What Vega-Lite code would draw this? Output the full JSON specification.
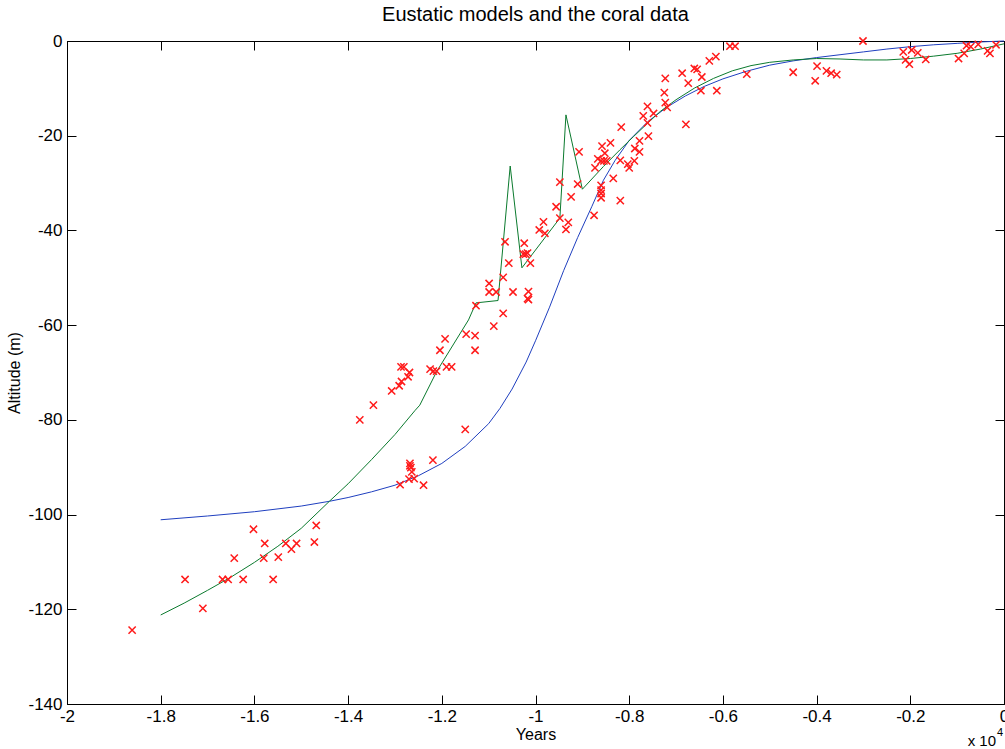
{
  "$schema": "https://vega.github.io/schema/vega-lite/v6.json",
  "width": 937,
  "height": 663,
  "autosize": {"type": "none"},
  "padding": {"left": 67, "top": 41, "right": 1, "bottom": 45},
  "background": "white",
  "title": {"text": "Eustatic models and the coral data", "fontSize": 20, "fontWeight": "normal", "font": "Liberation Sans", "color": "black", "offset": 7, "anchor": "middle"},
  "config": {
    "font": "Liberation Sans",
    "view": {"stroke": "black", "strokeWidth": 1},
    "axis": {"grid": false, "domainColor": "black", "tickColor": "black", "labelColor": "black", "titleColor": "black", "labelFont": "Liberation Sans", "titleFont": "Liberation Sans", "labelFontSize": 17, "titleFontSize": 16, "titleFontWeight": "normal", "tickSize": -9, "domainWidth": 1, "tickWidth": 1}
  },
  "datasets": {
    "coral": [
      {"year": -18610, "altitude": -124.4}, {"year": -17480, "altitude": -113.7}, {"year": -17100, "altitude": -119.8},
      {"year": -16680, "altitude": -113.7}, {"year": -16560, "altitude": -113.7}, {"year": -16430, "altitude": -109.2},
      {"year": -16240, "altitude": -113.7}, {"year": -16020, "altitude": -103.1}, {"year": -15780, "altitude": -106.1},
      {"year": -15800, "altitude": -109.2}, {"year": -15600, "altitude": -113.7}, {"year": -15490, "altitude": -109.0},
      {"year": -15330, "altitude": -106.1}, {"year": -15210, "altitude": -107.3}, {"year": -15100, "altitude": -106.1},
      {"year": -14720, "altitude": -105.8}, {"year": -14680, "altitude": -102.3}, {"year": -13750, "altitude": -80.0},
      {"year": -13460, "altitude": -76.9}, {"year": -13070, "altitude": -73.9}, {"year": -12910, "altitude": -72.8},
      {"year": -12860, "altitude": -71.9}, {"year": -12720, "altitude": -70.9}, {"year": -12690, "altitude": -70.0},
      {"year": -12870, "altitude": -68.8}, {"year": -12810, "altitude": -68.8}, {"year": -12250, "altitude": -69.3},
      {"year": -12180, "altitude": -69.7}, {"year": -12110, "altitude": -69.7}, {"year": -12040, "altitude": -65.3},
      {"year": -11930, "altitude": -62.9}, {"year": -11900, "altitude": -68.8}, {"year": -11790, "altitude": -68.8},
      {"year": -11480, "altitude": -61.9}, {"year": -11290, "altitude": -62.2}, {"year": -11290, "altitude": -65.3},
      {"year": -10890, "altitude": -60.2}, {"year": -11500, "altitude": -82.0}, {"year": -12190, "altitude": -88.5},
      {"year": -12680, "altitude": -89.2}, {"year": -12680, "altitude": -89.7}, {"year": -12660, "altitude": -90.1},
      {"year": -12640, "altitude": -91.0}, {"year": -12700, "altitude": -92.5}, {"year": -12590, "altitude": -92.4},
      {"year": -12890, "altitude": -93.7}, {"year": -12390, "altitude": -93.8}, {"year": -11270, "altitude": -55.9},
      {"year": -10690, "altitude": -57.5}, {"year": -10990, "altitude": -51.2}, {"year": -10990, "altitude": -53.0},
      {"year": -10840, "altitude": -53.0}, {"year": -10690, "altitude": -49.9}, {"year": -10650, "altitude": -42.4},
      {"year": -10570, "altitude": -46.9}, {"year": -10480, "altitude": -53.0}, {"year": -10240, "altitude": -42.7},
      {"year": -10260, "altitude": -45.0}, {"year": -10210, "altitude": -45.0}, {"year": -10170, "altitude": -44.8},
      {"year": -10110, "altitude": -46.9}, {"year": -10150, "altitude": -52.9}, {"year": -10170, "altitude": -54.4},
      {"year": -10150, "altitude": -54.6}, {"year": -9920, "altitude": -39.9}, {"year": -9800, "altitude": -40.6},
      {"year": -9830, "altitude": -38.2}, {"year": -9560, "altitude": -35.0}, {"year": -9480, "altitude": -37.4},
      {"year": -9300, "altitude": -38.3}, {"year": -9350, "altitude": -39.8}, {"year": -9480, "altitude": -29.8},
      {"year": -9240, "altitude": -32.9}, {"year": -9100, "altitude": -30.2}, {"year": -9070, "altitude": -23.4},
      {"year": -8750, "altitude": -36.8}, {"year": -8600, "altitude": -30.5}, {"year": -8600, "altitude": -31.5},
      {"year": -8600, "altitude": -32.2}, {"year": -8600, "altitude": -33.1}, {"year": -8730, "altitude": -26.8},
      {"year": -8670, "altitude": -24.9}, {"year": -8600, "altitude": -25.3}, {"year": -8540, "altitude": -25.3},
      {"year": -8480, "altitude": -25.3}, {"year": -8520, "altitude": -23.7}, {"year": -8580, "altitude": -22.2},
      {"year": -8400, "altitude": -21.5}, {"year": -8340, "altitude": -29.0}, {"year": -8190, "altitude": -33.7},
      {"year": -8190, "altitude": -25.2}, {"year": -8170, "altitude": -18.2}, {"year": -8030, "altitude": -26.0},
      {"year": -8000, "altitude": -26.8}, {"year": -7890, "altitude": -25.3}, {"year": -7880, "altitude": -22.7},
      {"year": -7780, "altitude": -23.4}, {"year": -7780, "altitude": -21.1}, {"year": -7590, "altitude": -20.1},
      {"year": -7700, "altitude": -15.8}, {"year": -7610, "altitude": -17.3}, {"year": -7610, "altitude": -13.8},
      {"year": -7480, "altitude": -15.3}, {"year": -7190, "altitude": -14.0}, {"year": -7230, "altitude": -13.0},
      {"year": -7250, "altitude": -10.9}, {"year": -6790, "altitude": -17.6}, {"year": -6470, "altitude": -10.5},
      {"year": -6130, "altitude": -10.5}, {"year": -7230, "altitude": -7.9}, {"year": -6870, "altitude": -6.8},
      {"year": -6610, "altitude": -5.8}, {"year": -6550, "altitude": -6.0}, {"year": -6740, "altitude": -8.9},
      {"year": -6450, "altitude": -7.6}, {"year": -6150, "altitude": -3.3}, {"year": -6290, "altitude": -4.2},
      {"year": -5850, "altitude": -1.1}, {"year": -5740, "altitude": -1.1}, {"year": -5490, "altitude": -7.0},
      {"year": -4500, "altitude": -6.6}, {"year": -3990, "altitude": -5.3}, {"year": -4030, "altitude": -8.4},
      {"year": -3790, "altitude": -6.3}, {"year": -3690, "altitude": -6.8}, {"year": -3570, "altitude": -7.1},
      {"year": -3010, "altitude": 0.0}, {"year": -2150, "altitude": -2.3}, {"year": -1970, "altitude": -1.9},
      {"year": -1840, "altitude": -2.5}, {"year": -2100, "altitude": -4.0}, {"year": -2020, "altitude": -4.9},
      {"year": -1670, "altitude": -3.9}, {"year": -970, "altitude": -3.7}, {"year": -850, "altitude": -2.6},
      {"year": -800, "altitude": -1.0}, {"year": -710, "altitude": -1.2}, {"year": -550, "altitude": -0.7},
      {"year": -350, "altitude": -2.1}, {"year": -300, "altitude": -2.6}, {"year": -170, "altitude": -0.8}
    ],
    "blue": [
      {"year": -18000, "altitude": -101.1}, {"year": -17000, "altitude": -100.3}, {"year": -16000, "altitude": -99.4},
      {"year": -15000, "altitude": -98.2}, {"year": -14400, "altitude": -97.2}, {"year": -14000, "altitude": -96.4},
      {"year": -13500, "altitude": -95.2}, {"year": -13000, "altitude": -93.8}, {"year": -12500, "altitude": -91.8},
      {"year": -12000, "altitude": -89.2}, {"year": -11500, "altitude": -85.6}, {"year": -11000, "altitude": -80.8},
      {"year": -10760, "altitude": -77.6}, {"year": -10500, "altitude": -73.5}, {"year": -10200, "altitude": -67.8},
      {"year": -10000, "altitude": -63.3}, {"year": -9700, "altitude": -56.2}, {"year": -9400, "altitude": -48.5},
      {"year": -9100, "altitude": -41.5}, {"year": -8800, "altitude": -35.0}, {"year": -8550, "altitude": -29.4},
      {"year": -8300, "altitude": -25.2}, {"year": -8000, "altitude": -21.0}, {"year": -7600, "altitude": -17.0},
      {"year": -7200, "altitude": -14.0}, {"year": -6800, "altitude": -11.6}, {"year": -6400, "altitude": -9.6},
      {"year": -6000, "altitude": -8.0}, {"year": -5500, "altitude": -6.4}, {"year": -5000, "altitude": -5.1},
      {"year": -4500, "altitude": -4.2}, {"year": -4000, "altitude": -3.5}, {"year": -3500, "altitude": -2.9},
      {"year": -3000, "altitude": -2.3}, {"year": -2500, "altitude": -1.7}, {"year": -2000, "altitude": -1.2},
      {"year": -1500, "altitude": -0.8}, {"year": -1000, "altitude": -0.5}, {"year": -500, "altitude": -0.2},
      {"year": 0, "altitude": 0.0}
    ],
    "green": [
      {"year": -18000, "altitude": -121.2}, {"year": -17500, "altitude": -118.7}, {"year": -17000, "altitude": -116.0},
      {"year": -16500, "altitude": -113.2}, {"year": -16000, "altitude": -110.1}, {"year": -15500, "altitude": -106.7},
      {"year": -15000, "altitude": -102.9}, {"year": -14400, "altitude": -97.2}, {"year": -14000, "altitude": -93.5},
      {"year": -13500, "altitude": -88.4}, {"year": -13000, "altitude": -83.1}, {"year": -12570, "altitude": -78.0},
      {"year": -12470, "altitude": -76.9}, {"year": -12110, "altitude": -69.8}, {"year": -11430, "altitude": -58.9},
      {"year": -11270, "altitude": -55.3}, {"year": -10800, "altitude": -54.8}, {"year": -10540, "altitude": -26.4},
      {"year": -10290, "altitude": -47.9}, {"year": -9480, "altitude": -37.4}, {"year": -9350, "altitude": -15.6},
      {"year": -9000, "altitude": -31.3}, {"year": -8550, "altitude": -26.5}, {"year": -8200, "altitude": -23.0},
      {"year": -7910, "altitude": -20.2}, {"year": -7600, "altitude": -17.3}, {"year": -7340, "altitude": -14.9},
      {"year": -7000, "altitude": -12.4}, {"year": -6600, "altitude": -9.9}, {"year": -6200, "altitude": -7.9},
      {"year": -5800, "altitude": -6.3}, {"year": -5400, "altitude": -5.2}, {"year": -5000, "altitude": -4.5},
      {"year": -4500, "altitude": -4.0}, {"year": -4000, "altitude": -3.7}, {"year": -3500, "altitude": -3.8},
      {"year": -3000, "altitude": -4.0}, {"year": -2500, "altitude": -4.0}, {"year": -2000, "altitude": -3.7},
      {"year": -1500, "altitude": -3.2}, {"year": -1000, "altitude": -2.6}, {"year": -500, "altitude": -1.7},
      {"year": 0, "altitude": -0.6}
    ]
  },
  "layer": [
    {
      "data": {"name": "blue"},
      "mark": {"type": "line", "color": "#1f3fbf", "strokeWidth": 1},
      "encoding": {
        "x": {"field": "year", "type": "quantitative", "scale": {"domain": [-20000, 0], "nice": false, "zero": false},
          "axis": {"orient": "bottom", "title": "Years", "values": [-20000, -18000, -16000, -14000, -12000, -10000, -8000, -6000, -4000, -2000, 0], "labelExpr": "'' + (datum.value / 10000)", "labelPadding": 13, "titleY": 22, "labelFlush": false}},
        "y": {"field": "altitude", "type": "quantitative", "scale": {"domain": [-140, 0], "nice": false, "zero": false},
          "axis": {"orient": "left", "title": "Altitude (m)", "values": [-140, -120, -100, -80, -60, -40, -20, 0], "labelExpr": "'' + datum.value", "labelPadding": 14, "titleX": -45, "labelFlush": false}}
      }
    },
    {
      "data": {"name": "green"},
      "mark": {"type": "line", "color": "#0b7a2e", "strokeWidth": 1},
      "encoding": {
        "x": {"field": "year", "type": "quantitative", "axis": {"orient": "top", "labels": false, "title": null, "values": [-20000, -18000, -16000, -14000, -12000, -10000, -8000, -6000, -4000, -2000, 0]}},
        "y": {"field": "altitude", "type": "quantitative", "axis": {"orient": "right", "labels": false, "title": null, "values": [-140, -120, -100, -80, -60, -40, -20, 0]}}
      }
    },
    {
      "data": {"name": "coral"},
      "mark": {"type": "point", "shape": "M-1,-1L1,1M-1,1L1,-1", "filled": false, "size": 52, "stroke": "#ff1a1a", "strokeWidth": 1.5, "opacity": 1},
      "encoding": {
        "x": {"field": "year", "type": "quantitative", "axis": null},
        "y": {"field": "altitude", "type": "quantitative", "axis": null}
      }
    },
    {
      "data": {"values": [{"label": "x 10"}]},
      "mark": {"type": "text", "align": "right", "baseline": "middle", "dx": -8, "dy": 37, "fontSize": 15, "font": "Liberation Sans", "color": "black"},
      "encoding": {
        "x": {"datum": 0, "type": "quantitative", "axis": null},
        "y": {"datum": -140, "type": "quantitative", "axis": null},
        "text": {"field": "label"}
      }
    },
    {
      "data": {"values": [{"label": "4"}]},
      "mark": {"type": "text", "align": "right", "baseline": "middle", "dx": -1, "dy": 29, "fontSize": 11, "font": "Liberation Sans", "color": "black"},
      "encoding": {
        "x": {"datum": 0, "type": "quantitative", "axis": null},
        "y": {"datum": -140, "type": "quantitative", "axis": null},
        "text": {"field": "label"}
      }
    }
  ],
  "resolve": {"axis": {"x": "independent", "y": "independent"}}
}
